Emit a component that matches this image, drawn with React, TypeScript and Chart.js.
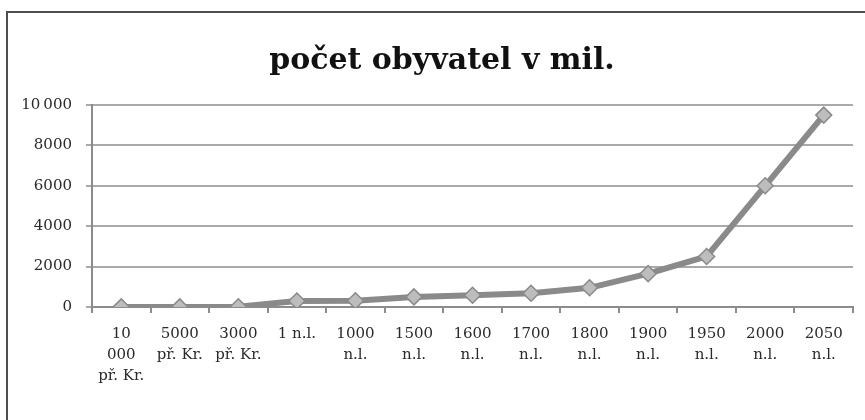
import React, { useEffect, useRef } from "react";
import { Chart, registerables } from "chart.js";

Chart.register(...registerables);

const categories: string[][] = [
  ["10", "000", "př. Kr."],
  ["5000", "př. Kr."],
  ["3000", "př. Kr."],
  ["1 n.l."],
  ["1000", "n.l."],
  ["1500", "n.l."],
  ["1600", "n.l."],
  ["1700", "n.l."],
  ["1800", "n.l."],
  ["1900", "n.l."],
  ["1950", "n.l."],
  ["2000", "n.l."],
  ["2050", "n.l."],
];

const population: number[] = [5, 5, 14, 300, 310, 500, 580, 680, 950, 1650, 2500, 6000, 9500];

const titleText = "počet obyvatel v mil.";

const frameAndTitle = {
  id: "frameAndTitle",
  afterDraw(chart: any) {
    const ctx = chart.ctx;
    ctx.save();
    ctx.strokeStyle = "#4d4d4d";
    ctx.lineWidth = 2;
    ctx.beginPath();
    ctx.moveTo(7, 420);
    ctx.lineTo(7, 12);
    ctx.lineTo(865, 12);
    ctx.stroke();
    ctx.fillStyle = "#111";
    ctx.font = "bold 30px 'DejaVu Serif', serif";
    ctx.textAlign = "center";
    ctx.textBaseline = "middle";
    ctx.fillText(titleText, 442, 61);
    ctx.restore();
  },
};

export default function App() {
  const ref = useRef<HTMLCanvasElement | null>(null);
  useEffect(() => {
    if (!ref.current) return;
    const tickFont = { family: "'DejaVu Serif', serif", size: 15 };
    const chart = new Chart(ref.current, {
      type: "line",
      data: {
        labels: categories,
        datasets: [
          {
            data: population,
            borderColor: "#8a8a8a",
            borderWidth: 6,
            tension: 0,
            pointStyle: "rectRot",
            pointRadius: 8,
            pointBackgroundColor: "#bdbdbd",
            pointBorderColor: "#8a8a8a",
            pointBorderWidth: 1.5,
          },
        ],
      },
      options: {
        animation: false,
        responsive: false,
        layout: { padding: { left: 0, right: 12, top: 105, bottom: 0 } },
        plugins: {
          legend: { display: false },
          tooltip: { enabled: false },
          title: { display: false },
        },
        scales: {
          x: {
            offset: true,
            afterFit: (s: any) => {
              s.height = 113;
            },
            grid: {
              offset: true,
              drawOnChartArea: false,
              drawTicks: true,
              tickLength: 6,
              color: "#8c8c8c",
              lineWidth: 2,
            },
            border: { display: true, color: "#8c8c8c", width: 2 },
            ticks: {
              color: "#2a2a2a",
              font: { ...tickFont, lineHeight: 1.4 },
              padding: 11,
              maxRotation: 0,
              autoSkip: false,
            },
          },
          y: {
            min: 0,
            max: 10000,
            afterFit: (s: any) => {
              s.width = 92;
            },
            grid: {
              color: "#a9a9a9",
              lineWidth: 2,
              tickLength: 6,
            },
            border: { display: true, color: "#8c8c8c", width: 2 },
            ticks: {
              stepSize: 2000,
              color: "#2a2a2a",
              font: tickFont,
              padding: 14,
              callback: (v: any) => (Number(v) >= 10000 ? "10\u2009000" : String(v)),
            },
          },
        },
      },
      plugins: [frameAndTitle],
    });
    return () => chart.destroy();
  }, []);
  return (
    <div style={{ position: "absolute", left: 0, top: 0, width: 865, height: 420, background: "#fff", overflow: "hidden" }}>
      <canvas ref={ref} width={865} height={420} style={{ display: "block" }} />
    </div>
  );
}
